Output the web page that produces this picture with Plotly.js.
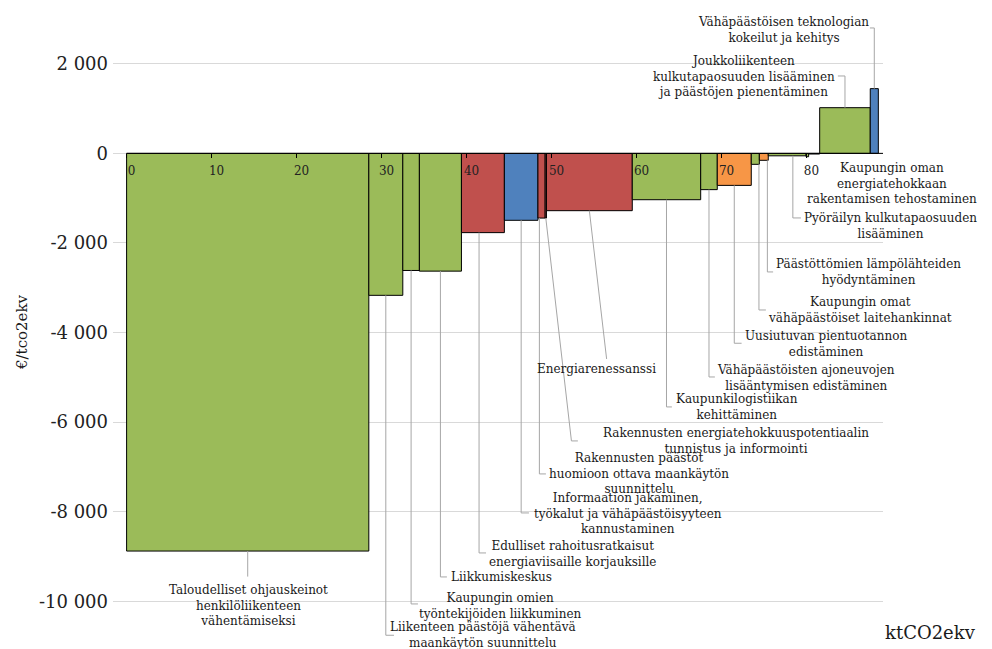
<!DOCTYPE html>
<html>
<head>
<meta charset="utf-8">
<script src="https://cdn.plot.ly/plotly-3.0.1.min.js"></script>
<style>html,body{margin:0;padding:0;background:#fff;}#chart{width:992px;height:649px;}</style>
</head>
<body>
<div id="chart"></div>
<script>
// ---- data ----
const measures = [
  "Taloudelliset ohjauskeinot<br>henkilöliikenteen<br>vähentämiseksi",
  "Liikenteen päästöjä vähentävä<br>maankäytön suunnittelu",
  "Kaupungin omien<br>työntekijöiden liikkuminen",
  "Liikkumiskeskus",
  "Edulliset rahoitusratkaisut<br>energiaviisaille korjauksille",
  "Informaation jakaminen,<br>työkalut ja vähäpäästöisyyteen<br>kannustaminen",
  "Rakennusten päästöt<br>huomioon ottava maankäytön<br>suunnittelu",
  "Rakennusten energiatehokkuuspotentiaalin<br>tunnistus ja informointi",
  "Energiarenessanssi",
  "Kaupunkilogistiikan<br>kehittäminen",
  "Vähäpäästöisten ajoneuvojen<br>lisääntymisen edistäminen",
  "Uusiutuvan pientuotannon<br>edistäminen",
  "Kaupungin omat<br>vähäpäästöiset laitehankinnat",
  "Päästöttömien lämpölähteiden<br>hyödyntäminen",
  "Pyöräilyn kulkutapaosuuden<br>lisääminen",
  "Kaupungin oman<br>energiatehokkaan<br>rakentamisen tehostaminen",
  "",
  "Joukkoliikenteen<br>kulkutapaosuuden lisääminen<br>ja päästöjen pienentäminen",
  "Vähäpäästöisen teknologian<br>kokeilut ja kehitys"
];
// abatement potential, ktCO2ekv (bar widths)
const potential = [28.5, 4.0, 1.95, 4.95, 5.05, 3.95, 0.85, 0.15, 10.1, 8.05, 1.95, 4.0, 0.95, 1.05, 4.45, 0.3, 1.3, 5.95, 0.95];
// cost, €/tCO2ekv (bar heights)
const cost = [-8880, -3170, -2615, -2630, -1770, -1495, -1445, -1445, -1280, -1035, -810, -715, -245, -155, -55, -75, -15, 1020, 1445];
// sector group -> colour
const sector = ["liikenne","liikenne","liikenne","liikenne","rak","info","rak","rak","rak","liikenne","liikenne","energia","liikenne","energia","liikenne","liikenne","liikenne","liikenne","info"];
const xTicks = [0, 10, 20, 30, 40, 50, 60, 70, 80];
const yTicks = [-10000, -8000, -6000, -4000, -2000, 0, 2000];
const yTickText = ["-10 000", "-8 000", "-6 000", "-4 000", "-2 000", "0", "2 000"];

// ---- label layout (positions in axis units) ----
const labelX = [14.34, 41.93, 44.05, 44.13, 52.46, 58.99, 60.34, 71.69, 55.34, 71.81, 79.93, 82.28, 86.28, 87.35, 89.87, 90.05, null, 72.64, 77.34];
const labelY = [-10106, -10745, -10106, -9458, -8945, -8052, -7158, -6421, -4813, -5674, -5015, -4267, -3497, -2648, -1621, -672, null, 1717, 2755];
const leadFrac = [0.5, 0.5, 0.5, 0.5, 0.41, 0.5, 0.2, 0.5, 0.5, 0.5, 0.5, 0.5, 0.95, 0.9, 0.65, 0.5, 0.5, 0.5, 0.5];
const elbowX = [null, null, null, null, null, null, null, 52.34, 56.48, null, null, null, null, null, null, null, null, null, null];
const elbowY = [-9450, -10760, -10061, -9458, -8922, -8029, -7158, -6421, -4591, -5662, -4993, -4240, -3497, -2648, -1442, null, null, 1728, 2800];
const tailX = [null, 31.46, 34.28, 37.69, 42.29, 47.34, 49.34, 53.1, null, 64.16, 69.22, 72.36, 75.22, 76.07, 79.34, null, null, 83.69, 87.46];

const colorOf = {liikenne: "#9BBB59", rak: "#C0504D", info: "#4F81BD", energia: "#F79646"};

// ---- build ----
const starts = [], centers = [];
let acc = 0;
potential.forEach(w => { starts.push(acc); centers.push(acc + w / 2); acc += w; });

const trace = {
  type: "bar",
  x: centers,
  y: cost,
  width: potential,
  marker: {color: sector.map(s => colorOf[s]), line: {color: "#000", width: 1}},
  hoverinfo: "none",
  cliponaxis: false
};

const xRange = [-1.6, 89.0];
const yRange = [-11000, 3000];
const font = "DejaVu Serif";
const toPx = v => (v - xRange[0]) / (xRange[1] - xRange[0]);
const toPy = v => (v - yRange[0]) / (yRange[1] - yRange[0]);

const annotations = [];
const shapes = [];
measures.forEach((m, i) => {
  if (!m) return;
  annotations.push({
    xref: "paper", yref: "paper", x: toPx(labelX[i]), y: toPy(labelY[i]), text: m, showarrow: false,
    align: "center", xanchor: "center", yanchor: "middle",
    font: {family: font, size: 12, color: "#1a1a1a"}
  });
  if (elbowY[i] === null) return;
  const ax = starts[i] + potential[i] * leadFrac[i];
  const ay = cost[i];
  const ex = elbowX[i] === null ? ax : elbowX[i];
  const ey = elbowY[i];
  let p = `M ${ax},${ay} L ${ex},${ey}`;
  if (tailX[i] !== null) p += ` L ${tailX[i]},${ey}`;
  shapes.push({type: "path", xref: "x", yref: "y", path: p, line: {color: "#A6A6A6", width: 1}, layer: "above"});
});
// horizontal axis line at zero
shapes.push({type: "line", xref: "x", yref: "y", x0: 0, x1: xRange[1], y0: 0, y1: 0, line: {color: "#000", width: 1}, layer: "above"});

annotations.push({
  xref: "paper", yref: "paper", x: -0.1182, y: 0.5008, text: "€/tco2ekv", textangle: -90,
  showarrow: false, xanchor: "center", yanchor: "middle",
  font: {family: font, size: 15, color: "#1a1a1a"}
});
annotations.push({
  xref: "paper", yref: "paper", x: 1.0623, y: 0.0223, text: "ktCO2ekv",
  showarrow: false, xanchor: "center", yanchor: "middle",
  font: {family: font, size: 18, color: "#1a1a1a"}
});

const layout = {
  width: 992, height: 649,
  margin: {l: 113, r: 109, t: 19, b: 3, pad: 0},
  paper_bgcolor: "#fff", plot_bgcolor: "#fff",
  showlegend: false,
  xaxis: {
    range: xRange, anchor: "free", position: toPy(0),
    tickmode: "array", tickvals: xTicks, ticktext: xTicks.map(String),
    ticks: "outside", ticklen: 4, tickcolor: "#000", tickwidth: 1,
    showgrid: false, zeroline: false, showline: false,
    tickfont: {family: font, size: 12, color: "#222"},
    ticklabelshift: 5, ticklabelstandoff: 2, fixedrange: true
  },
  yaxis: {
    range: yRange, tickmode: "array", tickvals: yTicks, ticktext: yTickText,
    showgrid: true, gridcolor: "#D9D9D9", gridwidth: 1,
    zeroline: false, showline: false, ticks: "",
    tickfont: {family: font, size: 18, color: "#222"},
    ticklabelstandoff: 4, fixedrange: true
  },
  annotations: annotations,
  shapes: shapes
};

Plotly.newPlot("chart", [trace], layout, {displayModeBar: false, staticPlot: true});
</script>
</body>
</html>
